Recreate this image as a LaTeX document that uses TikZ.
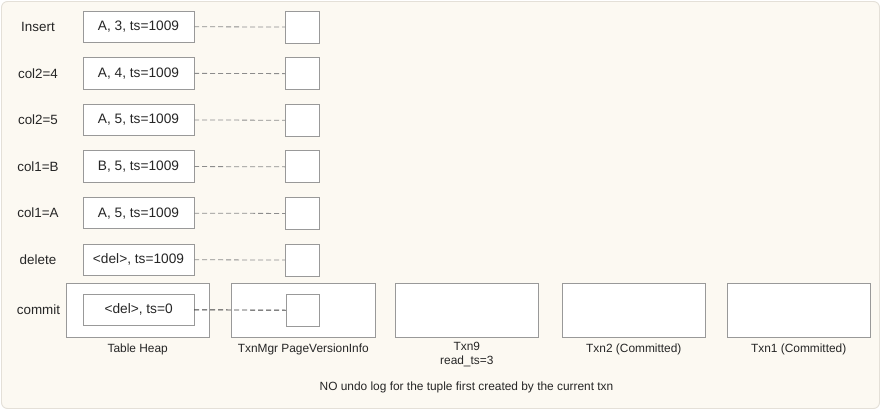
\documentclass[tikz,border=0pt]{standalone}
\usepackage{fontspec}
\setmainfont{Liberation Sans}
\begin{document}
\begin{tikzpicture}[x=1pt,y=-1pt,
  every node/.style={inner sep=0pt, outer sep=0pt, text=black!85},
  rowbox/.style={draw=black!40, fill=white, line width=0.9pt, minimum width=111pt, minimum height=31.5pt, font=\fontsize{13.7}{15}\selectfont},
  ptrbox/.style={draw=black!40, fill=white, line width=0.9pt, minimum width=33.5pt, minimum height=32pt},
  bigbox/.style={draw=black!40, fill=white, line width=0.9pt, minimum width=143.5pt, minimum height=54pt},
  rowlabel/.style={font=\fontsize{13.4}{15}\selectfont},
  caption/.style={font=\fontsize{11.9}{13}\selectfont, align=center},
  link/.style={draw=black!45, line width=0.8pt, dash pattern=on 5pt off 3pt},
  darklink/.style={draw=black!75, line width=0.9pt, dash pattern=on 5pt off 3pt}
]
\useasboundingbox (0,0) rectangle (881,410);
\draw[fill={rgb,255:red,252;green,249;blue,242}, draw={rgb,255:red,228;green,224;blue,216}, line width=0.9pt, rounded corners=6pt] (1.5,1.5) rectangle (879.5,408.5);

% rows
\foreach \i/\lab/\txt in {0/Insert/{A, 3, ts=1009}, 1/col2=4/{A, 4, ts=1009}, 2/col2=5/{A, 5, ts=1009}, 3/col1=B/{B, 5, ts=1009}, 4/col1=A/{A, 5, ts=1009}, 5/delete/{<del>, ts=1009}}{
  \pgfmathsetmacro{\yy}{26.75+46.6*\i}
  \node[rowlabel] (l\i) at (38,\yy) {\lab};
  \node[rowbox] (t\i) at (138.5,\yy) {\txt};
  \node[ptrbox] (p\i) at (302.2,\yy+0.3) {};
  \draw[link] (t\i.east) -- (p\i.west);
}

% commit row
\node[rowlabel] (lc) at (38.5,310) {commit};
\node[bigbox] (heap) at (137.7,310) {};
\node[bigbox] (pvi) at (303.3,310) {};
\node[bigbox] (txn9) at (466.8,310) {};
\node[bigbox] (txn2) at (633.8,310) {};
\node[bigbox] (txn1) at (798.7,310) {};
\node[rowbox] (tc) at (138.6,309.8) {<del>, ts=0};
\coordinate (pce) at (286,310.2);
\draw[darklink] (tc.east) -- (pce);
\node[ptrbox, anchor=west] (pc) at (286,310.2) {};

% captions
\node[caption] (c1) at (137.7,349.5) {Table Heap};
\node[caption] (c2) at (303.3,349.5) {TxnMgr PageVersionInfo};
\node[caption, anchor=north] (c3) at (466.8,342.5) {Txn9\\[1pt]read\_ts=3};
\node[caption] (c4) at (633.8,349) {Txn2 (Committed)};
\node[caption] (c5) at (798.7,349) {Txn1 (Committed)};
\node[caption] (note) at (466.5,387.5) {NO undo log for the tuple first created by the current txn};
\end{tikzpicture}
\end{document}
